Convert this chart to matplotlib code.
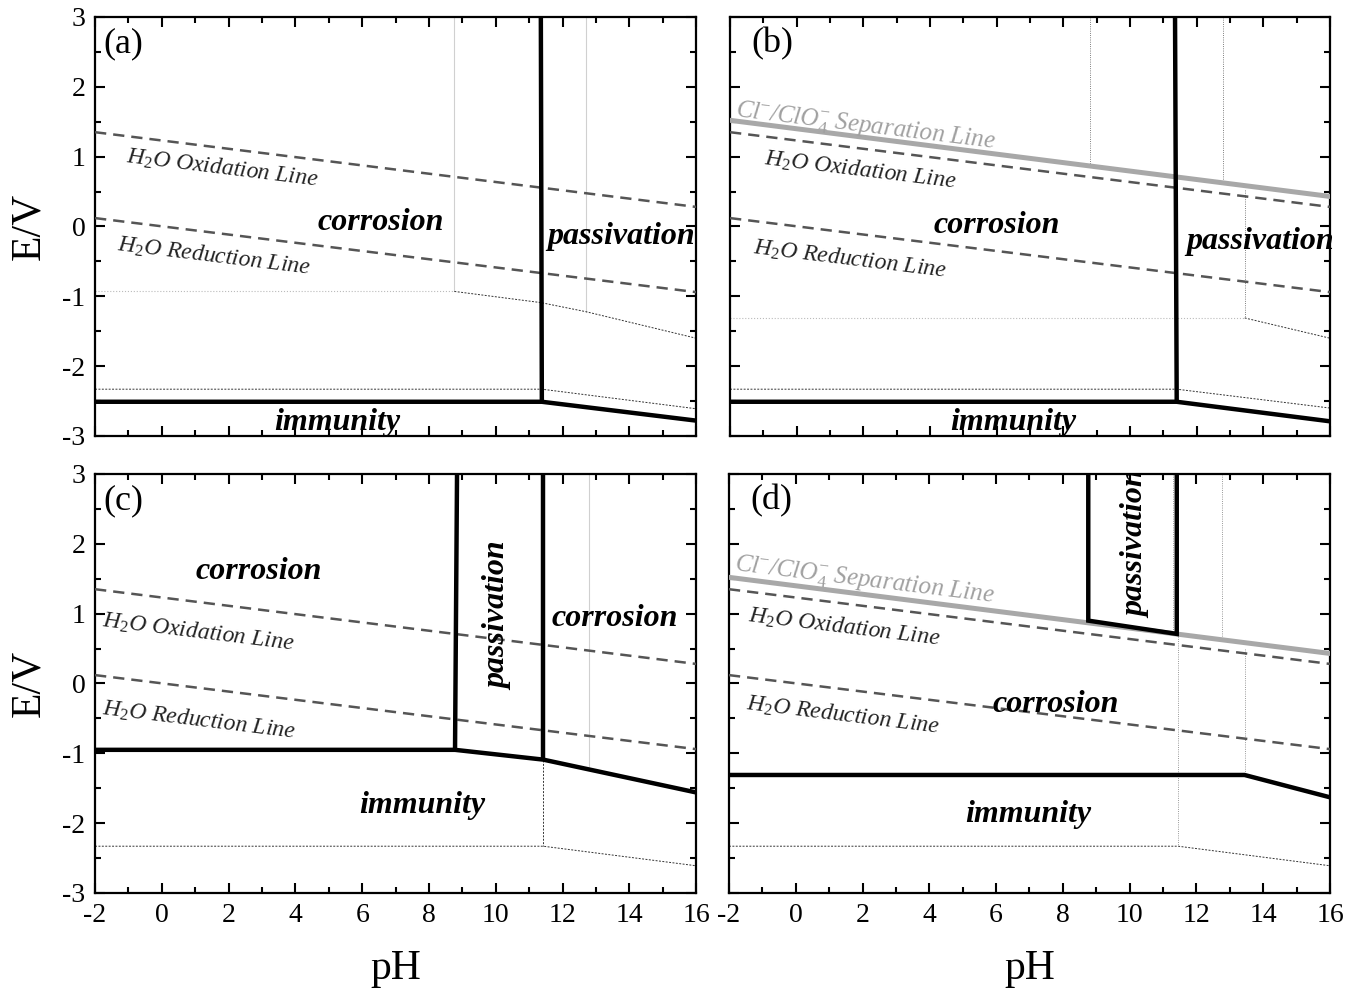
import matplotlib
matplotlib.use("Agg")
import matplotlib.pyplot as plt
from matplotlib.ticker import MultipleLocator

plt.rcParams["font.family"] = ["Liberation Serif", "DejaVu Serif"]
plt.rcParams["mathtext.fontset"] = "custom"
plt.rcParams["mathtext.rm"] = "Liberation Serif"
plt.rcParams["mathtext.it"] = "Liberation Serif:italic"
plt.rcParams["axes.unicode_minus"] = False

# --- shared lines (pH endpoints, E/V) ---
PH_ENDS = [-2, 16]
OX_E = [1.35, 0.28]        # H2O oxidation line
RED_E = [0.12, -0.94]      # H2O reduction line
SEP_E = [1.52, 0.43]       # Cl-/ClO4- separation line

# --- panel (a) ---
A_WALL_PH = [11.35, 11.38]
A_WALL_E = [3.0, -2.51]
A_FLOOR_PH = [-2, 11.38, 16]
A_FLOOR_E = [-2.51, -2.51, -2.78]
A_LOW_PH = [-2, 11.38, 16]
A_LOW_E = [-2.33, -2.33, -2.61]
A_MID_PH = [-2, 8.76, 11.35, 12.7, 16]
A_MID_E = [-0.93, -0.93, -1.09, -1.22, -1.6]
A_FAINT_PH = [8.76, 12.7]
A_FAINT_TOP = [3.0, 3.0]
A_FAINT_BOT = [-0.93, -1.22]

# --- panel (b) ---
B_WALL_PH = [11.35, 11.4]
B_WALL_E = [3.0, -2.51]
B_FLOOR_PH = [-2, 11.4, 16]
B_FLOOR_E = [-2.51, -2.51, -2.79]
B_LOW_PH = [-2, 11.4, 16]
B_LOW_E = [-2.33, -2.33, -2.6]
B_MID_PH = [-2, 13.44, 16]
B_MID_E = [-1.31, -1.31, -1.6]
B_DOT_PH = [8.79, 12.79, 13.44]
B_DOT_TOP = [3.0, 3.0, 0.52]
B_DOT_BOT = [0.9, 0.66, -1.31]

# --- panel (c) ---
C_WALL1_PH = [8.84, 8.78]
C_WALL1_E = [3.0, -0.95]
C_WALL2_PH = [11.42, 11.42]
C_WALL2_E = [3.0, -1.09]
C_FLOOR_PH = [-2, 8.78, 11.42, 16]
C_FLOOR_E = [-0.95, -0.95, -1.09, -1.56]
C_LOW_PH = [-2, 11.42, 16]
C_LOW_E = [-2.33, -2.33, -2.61]
C_DROP_PH = [11.42, 11.42]
C_DROP_E = [-1.09, -2.33]
C_FAINT_PH = [12.8, 12.8]
C_FAINT_E = [3.0, -1.2]

# --- panel (d) ---
D_BOX_PH = [8.76, 8.76, 11.41, 11.41]
D_BOX_E = [3.0, 0.9, 0.71, 3.0]
D_FLOOR_PH = [-2, 13.44, 16]
D_FLOOR_E = [-1.31, -1.31, -1.63]
D_LOW_PH = [-2, 11.45, 16]
D_LOW_E = [-2.33, -2.33, -2.61]
D_DOT_PH = [11.3, 12.77, 13.44, 11.45]
D_DOT_TOP = [3.0, 3.0, 0.49, 0.71]
D_DOT_BOT = [0.72, 0.68, -1.31, -2.33]

XTICKS = [-2, 0, 2, 4, 6, 8, 10, 12, 14, 16]
YTICKS = [-3, -2, -1, 0, 1, 2, 3]

THICK = dict(color="black", lw=3.2, solid_capstyle="butt", solid_joinstyle="miter", zorder=4)
THIN = dict(color="#333333", lw=0.7, ls=(0, (2, 1.5)), zorder=2)
FAINT = dict(color="#d0d0d0", lw=0.8, zorder=1)
REGION = dict(fontsize=23, fontweight="bold", fontstyle="italic", ha="center", va="center", zorder=6)
LINE_TXT = dict(fontsize=17, fontstyle="italic", color="#222222", ha="center", va="center",
                rotation=-7, rotation_mode="anchor", zorder=6)
SEP_TXT = dict(fontsize=18, fontstyle="italic", color="#a0a0a0", ha="center", va="center",
               rotation=-7, rotation_mode="anchor", zorder=6)


def style_axes(ax, bottom, left):
    ax.set_xlim(-2, 16)
    ax.set_ylim(-3, 3)
    ax.set_xticks(XTICKS)
    ax.set_yticks(YTICKS)
    ax.xaxis.set_minor_locator(MultipleLocator(1))
    ax.yaxis.set_minor_locator(MultipleLocator(0.5))
    ax.tick_params(which="both", direction="in", top=True, right=True, width=1.5,
                   labelsize=20, labelbottom=bottom, labelleft=left)
    ax.tick_params(which="major", length=7, pad=7)
    ax.tick_params(which="minor", length=4)
    for sp in ax.spines.values():
        sp.set_linewidth(1.6)
    if bottom:
        ax.set_xlabel("pH", fontsize=30, labelpad=16)
    if left:
        ax.set_ylabel("E/V", fontsize=30, labelpad=10)


def water_lines(ax):
    ax.plot(PH_ENDS, OX_E, color="#555555", lw=1.8, ls=(0, (4.5, 2.8)), zorder=3)
    ax.plot(PH_ENDS, RED_E, color="#555555", lw=1.8, ls=(0, (4.5, 2.8)), zorder=3)


def verticals(ax, ph, top, bot, **kw):
    for x, t, b in zip(ph, top, bot):
        ax.plot([x, x], [t, b], **kw)


def main() -> None:
    fig = plt.figure(figsize=(13.58, 9.92), dpi=100)
    ax_a = fig.add_axes([0.0700, 0.5605, 0.4426, 0.4224])
    ax_b = fig.add_axes([0.5376, 0.5605, 0.4418, 0.4224])
    ax_c = fig.add_axes([0.0700, 0.0998, 0.4426, 0.4224])
    ax_d = fig.add_axes([0.5368, 0.0998, 0.4426, 0.4224])

    # (a)
    ax = ax_a
    water_lines(ax)
    verticals(ax, A_FAINT_PH, A_FAINT_TOP, A_FAINT_BOT, **FAINT)
    ax.plot(A_MID_PH[:2], A_MID_E[:2], color="#bbbbbb", lw=0.8, ls=":", zorder=2)
    ax.plot(A_MID_PH[1:], A_MID_E[1:], **THIN)
    ax.plot(A_LOW_PH, A_LOW_E, **THIN)
    ax.plot(A_WALL_PH, A_WALL_E, **THICK)
    ax.plot(A_FLOOR_PH, A_FLOOR_E, **THICK)
    ax.text(-1.75, 2.62, "(a)", fontsize=26, ha="left", va="center")
    ax.text(6.55, 0.05, "corrosion", **REGION)
    ax.text(13.75, -0.15, "passivation", **REGION)
    ax.text(5.25, -2.8, "immunity", **REGION)
    ax.text(1.8, 0.84, "H$_2$O Oxidation Line", **LINE_TXT)
    ax.text(1.55, -0.42, "H$_2$O Reduction Line", **LINE_TXT)
    style_axes(ax, bottom=False, left=True)

    # (b)
    ax = ax_b
    water_lines(ax)
    ax.plot(PH_ENDS, SEP_E, color="#a8a8a8", lw=3.6, zorder=3)
    verticals(ax, B_DOT_PH, B_DOT_TOP, B_DOT_BOT, color="#555555", lw=0.6, ls=":", zorder=2)
    ax.plot(B_MID_PH[:2], B_MID_E[:2], color="#bbbbbb", lw=0.8, ls=":", zorder=2)
    ax.plot(B_MID_PH[1:], B_MID_E[1:], **THIN)
    ax.plot(B_LOW_PH, B_LOW_E, **THIN)
    ax.plot(B_WALL_PH, B_WALL_E, **THICK)
    ax.plot(B_FLOOR_PH, B_FLOOR_E, **THICK)
    ax.text(-1.35, 2.62, "(b)", fontsize=26, ha="left", va="center")
    ax.text(2.05, 1.43, "Cl$^{-}$/ClO$_4^{-}$ Separation Line", **SEP_TXT)
    ax.text(6.0, 0.02, "corrosion", **REGION)
    ax.text(13.9, -0.22, "passivation", **REGION)
    ax.text(6.5, -2.8, "immunity", **REGION)
    ax.text(1.9, 0.8, "H$_2$O Oxidation Line", **LINE_TXT)
    ax.text(1.6, -0.47, "H$_2$O Reduction Line", **LINE_TXT)
    style_axes(ax, bottom=False, left=False)

    # (c)
    ax = ax_c
    water_lines(ax)
    ax.plot(C_FAINT_PH, C_FAINT_E, **FAINT)
    ax.plot(C_DROP_PH, C_DROP_E, **THIN)
    ax.plot(C_LOW_PH, C_LOW_E, **THIN)
    ax.plot(C_WALL1_PH, C_WALL1_E, **THICK)
    ax.plot(C_WALL2_PH, C_WALL2_E, **THICK)
    ax.plot(C_FLOOR_PH, C_FLOOR_E, **THICK)
    ax.text(-1.75, 2.62, "(c)", fontsize=26, ha="left", va="center")
    ax.text(2.9, 1.6, "corrosion", **REGION)
    ax.text(10.1, 0.97, "passivation", rotation=90, **REGION)
    ax.text(13.55, 0.93, "corrosion", **REGION)
    ax.text(7.8, -1.74, "immunity", **REGION)
    ax.text(1.1, 0.74, "H$_2$O Oxidation Line", **LINE_TXT)
    ax.text(1.1, -0.52, "H$_2$O Reduction Line", **LINE_TXT)
    style_axes(ax, bottom=True, left=True)

    # (d)
    ax = ax_d
    water_lines(ax)
    ax.plot(PH_ENDS, SEP_E, color="#a8a8a8", lw=3.6, zorder=3)
    verticals(ax, D_DOT_PH, D_DOT_TOP, D_DOT_BOT, color="#777777", lw=0.6, ls=":", zorder=2)
    ax.plot(D_LOW_PH, D_LOW_E, **THIN)
    ax.plot(D_BOX_PH, D_BOX_E, **THICK)
    ax.plot(D_FLOOR_PH, D_FLOOR_E, **THICK)
    ax.text(-1.35, 2.62, "(d)", fontsize=26, ha="left", va="center")
    ax.text(2.05, 1.48, "Cl$^{-}$/ClO$_4^{-}$ Separation Line", **SEP_TXT)
    ax.text(10.2, 2.0, "passivation", rotation=90, clip_on=True, **REGION)
    ax.text(7.8, -0.3, "corrosion", **REGION)
    ax.text(6.95, -1.88, "immunity", **REGION)
    ax.text(1.45, 0.8, "H$_2$O Oxidation Line", **LINE_TXT)
    ax.text(1.4, -0.45, "H$_2$O Reduction Line", **LINE_TXT)
    style_axes(ax, bottom=True, left=False)

    fig.savefig("out.png", dpi=100)


if __name__ == "__main__":
    main()
